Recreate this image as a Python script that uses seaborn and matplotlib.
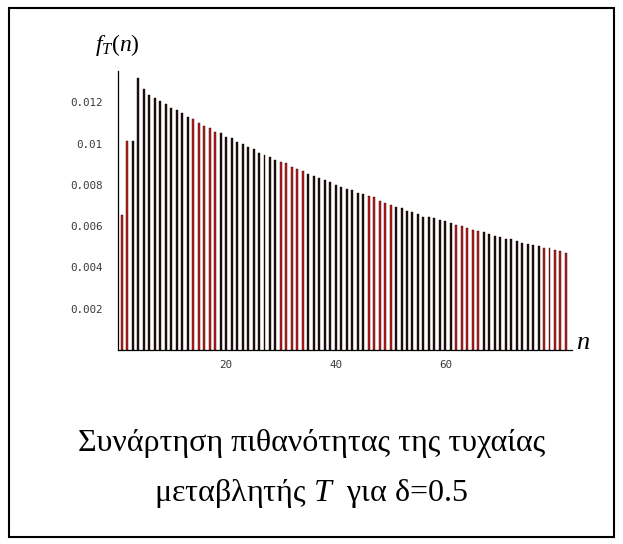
import numpy as np
import pandas as pd
import matplotlib
matplotlib.use("Agg")
import matplotlib.pyplot as plt
from matplotlib.patches import Rectangle
from matplotlib.ticker import MultipleLocator, FixedLocator
import seaborn as sns

sns.set_theme(style="white")
plt.rcParams["font.family"] = ["Liberation Serif", "DejaVu Serif"]
plt.rcParams["text.color"] = "black"
plt.rcParams["mathtext.fontset"] = "custom"
plt.rcParams["mathtext.rm"] = "Liberation Serif"
plt.rcParams["mathtext.it"] = "Liberation Serif:italic"

# probability mass function f_T(n), n = 1..82
n_values = list(range(1, 83))
f_values = [
    6.54, 10.12, 10.12, 13.19, 12.66, 12.34, 12.23, 12.06, 11.90, 11.71,
    11.63, 11.47, 11.29, 11.21, 11.02, 10.84, 10.78, 10.58, 10.50, 10.34,
    10.26, 10.08, 9.99, 9.83, 9.73, 9.56, 9.45, 9.37, 9.20, 9.12,
    9.04, 8.86, 8.77, 8.69, 8.52, 8.43, 8.34, 8.23, 8.15, 8.00,
    7.92, 7.81, 7.74, 7.63, 7.57, 7.47, 7.40, 7.22, 7.12, 7.04,
    6.94, 6.86, 6.75, 6.67, 6.59, 6.46, 6.43, 6.38, 6.31, 6.25,
    6.15, 6.06, 6.00, 5.91, 5.83, 5.76, 5.71, 5.62, 5.54, 5.46,
    5.38, 5.37, 5.29, 5.19, 5.13, 5.11, 5.03, 4.93, 4.93, 4.86,
    4.79, 4.71,
]
f_values = [v / 1000 for v in f_values]
# highlighted values of n
red_n = [1, 2, 14, 15, 16, 17, 18, 30, 31, 32, 33, 34, 46, 47, 48, 49, 50,
         62, 63, 64, 65, 66, 78, 79, 80, 81, 82]
y_ticks = [0.002, 0.004, 0.006, 0.008, 0.01, 0.012]
y_tick_labels = ["0.002", "0.004", "0.006", "0.008", "0.01", "0.012"]
x_ticks = [20, 40, 60]
caption_1 = "Συνάρτηση πιθανότητας της τυχαίας"
caption_2 = "μεταβλητής $T$  για δ=0.5"

df = pd.DataFrame({"n": n_values, "f": f_values})
df["group"] = np.where(df["n"].isin(red_n), "red", "plain")

fig = plt.figure(figsize=(6.23, 5.44), dpi=100)
fig.patch.set_facecolor("white")
ax = fig.add_axes([0.1894, 0.3566, 0.9181 - 0.1894, 0.8695 - 0.3566])

sns.barplot(data=df, x="n", y="f", hue="group", native_scale=True,
            palette={"red": "#e00000", "plain": "#1a1010"}, dodge=False,
            width=0.36, edgecolor="#200000", linewidth=0.3, legend=False,
            ax=ax)

ax.set_xlim(0.27, 83.1)
ax.set_ylim(0, 0.01352)
ax.set_xlabel("")
ax.set_ylabel("")

for side in ["top", "right"]:
    ax.spines[side].set_visible(False)
for side in ["left", "bottom"]:
    ax.spines[side].set_color("black")
    ax.spines[side].set_linewidth(0.9)

ax.yaxis.set_major_locator(FixedLocator(y_ticks))
ax.set_yticklabels(y_tick_labels)
ax.yaxis.set_minor_locator(MultipleLocator(0.0005))
ax.xaxis.set_major_locator(FixedLocator(x_ticks))
ax.set_xticklabels([str(t) for t in x_ticks])
ax.xaxis.set_minor_locator(MultipleLocator(5))
ax.tick_params(axis="both", which="major", direction="in", length=4.5,
               width=0.7, color="black", labelsize=7.8, labelcolor="#3a3a3a")
ax.tick_params(axis="both", which="minor", direction="in", length=2.5,
               width=0.6, color="black")
ax.tick_params(axis="y", which="major", pad=11)
ax.tick_params(axis="x", which="major", pad=7)
for lab in ax.get_xticklabels() + ax.get_yticklabels():
    lab.set_family("DejaVu Sans Mono")

fig.text(117 / 623, 1 - 45 / 544, r"$f_T(n)$", ha="center", va="center",
         fontsize=17)
fig.text(583 / 623, 1 - 343 / 544, r"$n$", ha="center", va="center",
         fontsize=19)

fig.text(0.5, 1 - 444 / 544, caption_1, ha="center", va="center", fontsize=23)
fig.text(0.5, 1 - 494 / 544, caption_2, ha="center", va="center", fontsize=23)

fig.patches.append(Rectangle((9 / 623, 1 - 537 / 544), 605 / 623, 529 / 544,
                             transform=fig.transFigure, fill=False,
                             edgecolor="black", linewidth=1.5))

fig.savefig("out.png", dpi=100, facecolor="white")
